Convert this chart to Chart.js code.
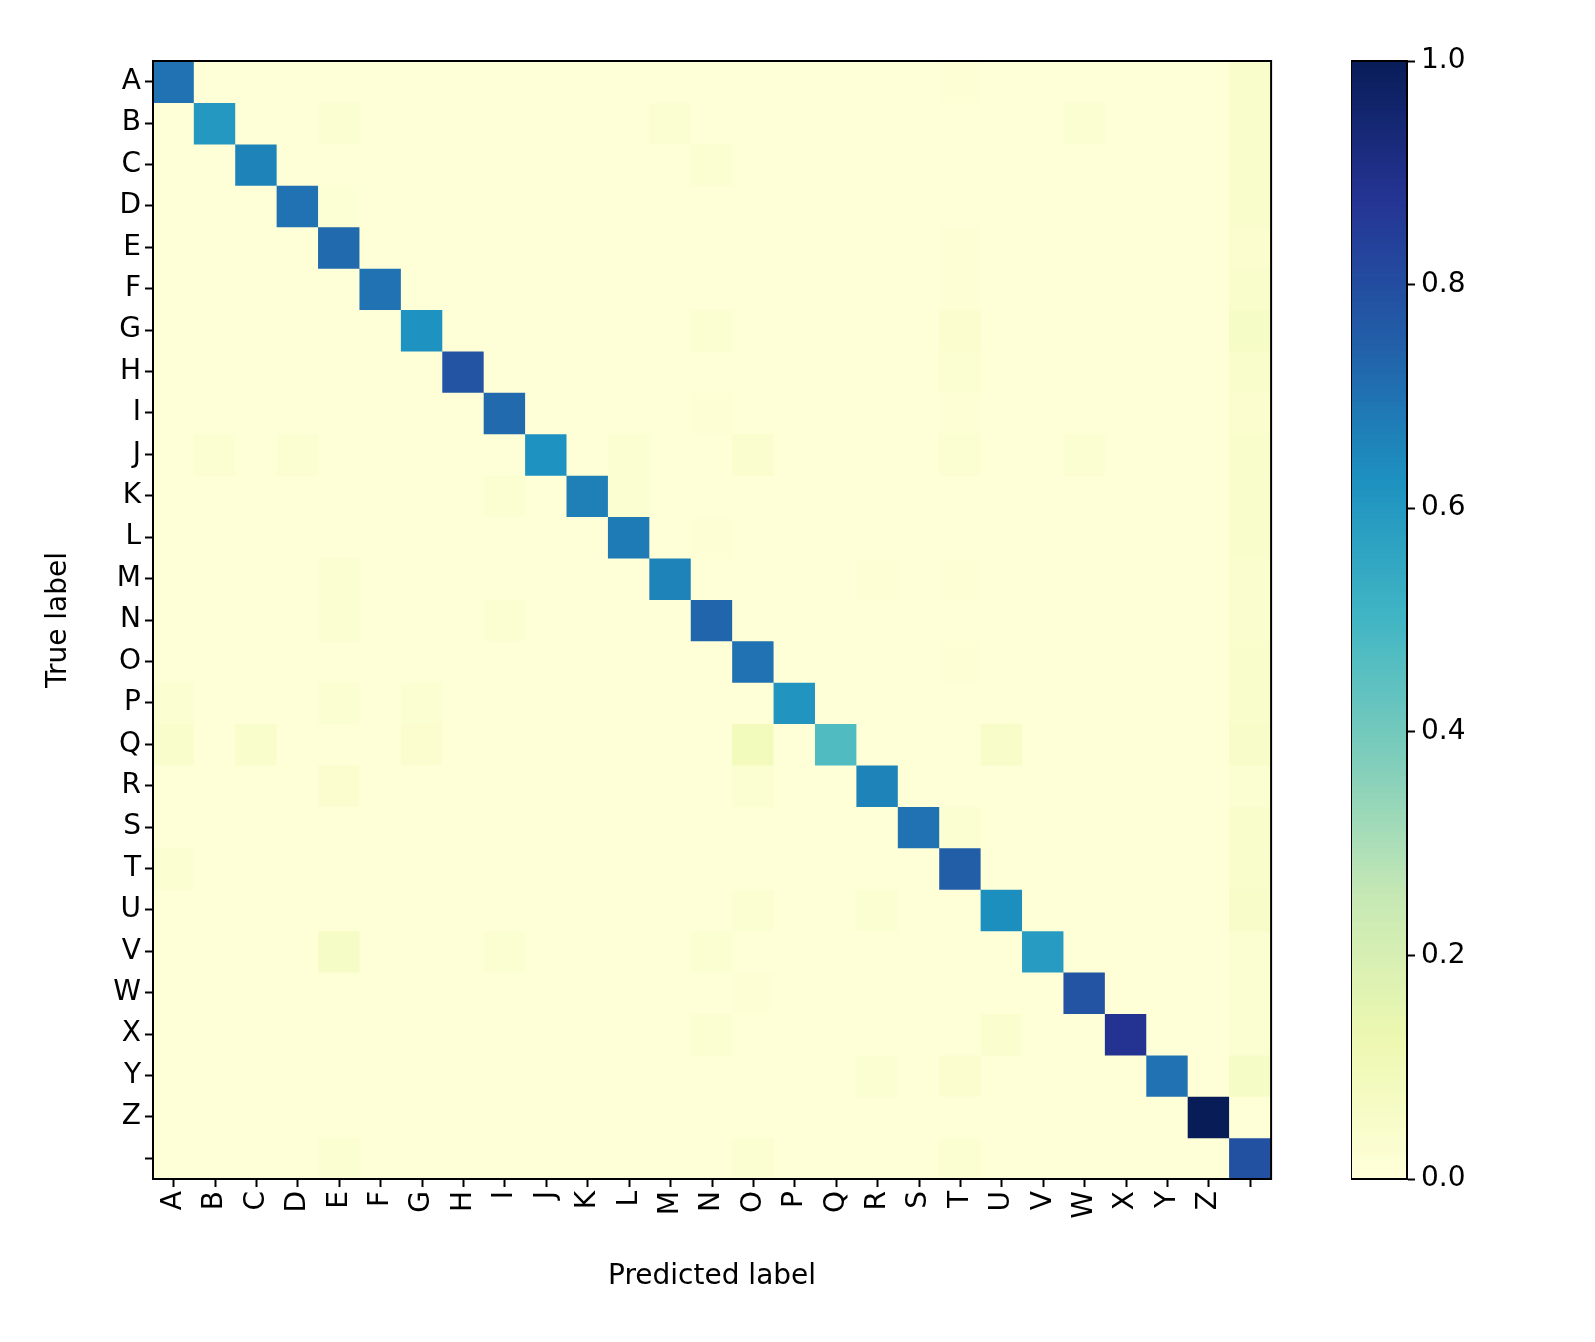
<!DOCTYPE html>
<html><head><meta charset="utf-8">
<script src="https://cdn.jsdelivr.net/npm/chart.js@4"></script>
<style>html,body{margin:0;padding:0;background:#fff;overflow:hidden}
canvas{position:absolute;top:0}</style></head>
<body><canvas id="c1" width="1288" height="1342" style="left:0;width:1288px;height:1342px"></canvas><canvas id="c2" width="200" height="1342" style="left:1351px;width:200px;height:1342px"></canvas>
<script>
const labels = ['A','B','C','D','E','F','G','H','I','J','K','L','M','N','O','P','Q','R','S','T','U','V','W','X','Y','Z',''];
const diagonal = [0.70,0.60,0.66,0.70,0.72,0.70,0.62,0.78,0.72,0.62,0.67,0.68,0.66,0.73,0.70,0.61,0.47,0.66,0.70,0.75,0.63,0.59,0.78,0.88,0.70,1.00,0.79];
// [row, col, value]
const offDiagonal = [
 [16,0,0.04],[16,2,0.04],[16,6,0.03],[16,14,0.09],[16,20,0.05],[16,26,0.05],
 [21,4,0.06],[21,8,0.025],[21,13,0.025],[23,13,0.025],[23,20,0.035],[24,19,0.03],[24,26,0.06],
 [9,1,0.025],[9,3,0.025],[9,11,0.025],[9,14,0.035],[9,19,0.025],[9,22,0.025],[10,11,0.025],[10,8,0.025],
 [1,4,0.025],[1,12,0.025],[1,22,0.025],[2,13,0.025],[6,13,0.025],[6,19,0.03],[7,19,0.025],[12,4,0.025],[13,4,0.025],[13,8,0.025],
 [15,0,0.025],[15,4,0.025],[15,6,0.025],[17,4,0.03],[17,14,0.025],[18,19,0.025],[19,0,0.025],[20,14,0.025],[20,17,0.025],[24,17,0.025],[26,4,0.025],[26,14,0.025],[26,19,0.025],
 [0,26,0.04],[1,26,0.04],[2,26,0.04],[3,26,0.04],[4,26,0.03],[5,26,0.04],[6,26,0.06],[7,26,0.04],[8,26,0.03],[9,26,0.04],[10,26,0.045],[11,26,0.04],[12,26,0.035],[13,26,0.035],[14,26,0.04],[15,26,0.04],[17,26,0.025],[18,26,0.045],[19,26,0.04],[20,26,0.05],[21,26,0.025],[22,26,0.025],[23,26,0.025],
 [3,4,0.02],[4,19,0.015],[5,19,0.015],[8,19,0.015],[11,13,0.015],[14,19,0.015],[22,14,0.015],[0,19,0.015],[8,13,0.015],[12,17,0.015],[12,19,0.015]
];
const cbTicks = [0,0.2,0.4,0.6,0.8,1.0];

const stops=['#ffffd9','#edf8b1','#c7e9b4','#7fcdbb','#41b6c4','#1d91c0','#225ea8','#253494','#081d58'];
function hex(h){return [1,3,5].map(i=>parseInt(h.substr(i,2),16));}
function cmap(v){v=Math.max(0,Math.min(1,v));const p=v*8,i=Math.min(7,Math.floor(p)),f=p-i;const a=hex(stops[i]),b=hex(stops[i+1]);
 return 'rgb('+a.map((x,k)=>Math.round(x+(b[k]-x)*f)).join(',')+')';}
const N=labels.length;
const M=[];for(let r=0;r<N;r++){M.push(new Array(N).fill(0.008));M[r][r]=diagonal[r];}
offDiagonal.forEach(([r,c,v])=>M[r][c]=v);
const font={family:'DejaVu Sans',size:28};
const datasets=[];
for(let r=0;r<N;r++){datasets.push({data:labels.map(()=>[r,r+1]),backgroundColor:labels.map((_,c)=>cmap(M[r][c])),borderWidth:0,barPercentage:1,categoryPercentage:1,inflateAmount:0.6});}
const frame={id:'frame',afterDraw(ch){const a=ch.chartArea,x=ch.ctx;x.save();x.strokeStyle='#000';x.lineWidth=2;x.strokeRect(a.left,a.top,a.right-a.left,a.bottom-a.top);x.restore();}};
new Chart(document.getElementById('c1'),{type:'bar',data:{labels,datasets},plugins:[frame],
options:{responsive:false,devicePixelRatio:1,animation:false,layout:{padding:{top:61,right:0,left:42,bottom:48}},
plugins:{legend:{display:false},tooltip:{enabled:false}},
scales:{
x:{stacked:true,grid:{offset:false,drawOnChartArea:false,tickLength:8,tickWidth:2,color:'#000'},border:{color:'#000',width:2},
 ticks:{font,color:'#000',minRotation:90,maxRotation:90,autoSkip:false,padding:4},
 title:{display:true,text:'Predicted label',font,color:'#000',padding:{top:0,bottom:0}},afterFit(s){s.height=115;}},
y:{type:'linear',reverse:true,min:0,max:N,stacked:false,
 afterBuildTicks(s){s.ticks=labels.map((_,i)=>({value:i+0.5}));},
 grid:{drawOnChartArea:false,tickLength:8,tickWidth:2,color:'#000'},border:{color:'#000',width:2},
 ticks:{font,color:'#000',autoSkip:false,padding:4,callback:(v)=>labels[Math.floor(v)]},
 title:{display:true,text:'True label',font,color:'#000',padding:{top:0,bottom:0}},afterFit(s){s.width=111;}}
}}});
const cbData=[];const K=200;
for(let k=0;k<K;k++)cbData.push({data:[[k/K,(k+1)/K]],backgroundColor:cmap((k+0.5)/K),borderWidth:0,barPercentage:1,categoryPercentage:1,inflateAmount:0.6});
new Chart(document.getElementById('c2'),{type:'bar',data:{labels:['c'],datasets:cbData},plugins:[frame],
options:{responsive:false,devicePixelRatio:1,animation:false,layout:{padding:{top:61,bottom:163}},
plugins:{legend:{display:false},tooltip:{enabled:false}},
scales:{x:{display:false,stacked:true},
y:{position:'right',min:0,max:1,stacked:false,afterBuildTicks(s){s.ticks=cbTicks.map(v=>({value:v}));},
 grid:{drawOnChartArea:false,tickLength:8,tickWidth:2,color:'#000'},border:{color:'#000',width:2},
 ticks:{font,color:'#000',padding:6,callback:v=>v.toFixed(1)},afterFit(s){s.width=144;}}}}});
</script></body></html>
